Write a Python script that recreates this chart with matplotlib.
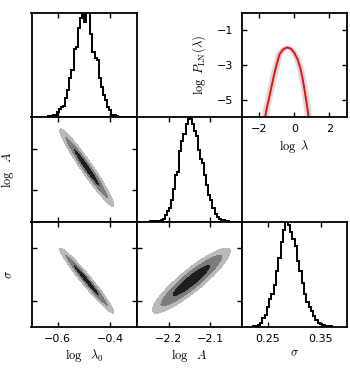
"""Corner plot of the log-normal fit posterior, with the model curve inset."""

import matplotlib

matplotlib.use("Agg")
import matplotlib.pyplot as plt
import numpy as np

plt.rcParams["mathtext.fontset"] = "cm"
plt.rcParams["font.family"] = "DejaVu Sans"

# ---- data ------------------------------------------------------------------
# 1D marginals: first bin edge, bin width and bin heights (fraction of panel)
LAM0_START, LAM0_WIDTH = -0.660, 0.008
LAM0_HEIGHTS = [0.003, 0.005, 0.006, 0.010, 0.015, 0.020, 0.025, 0.048, 0.080,
                0.100, 0.110, 0.180, 0.260, 0.370, 0.450, 0.650, 0.670, 0.850,
                0.950, 1.050, 0.910, 1.080, 1.040, 0.790, 0.620, 0.570, 0.550,
                0.370, 0.290, 0.210, 0.160, 0.100, 0.065, 0.025, 0.020, 0.008,
                0.003]

LOGA_START, LOGA_WIDTH = -2.255, 0.005
LOGA_HEIGHTS = [0.003, 0.004, 0.005, 0.006, 0.008, 0.010, 0.012, 0.020, 0.030,
                0.065, 0.100, 0.130, 0.210, 0.310, 0.450, 0.480, 0.680, 0.770,
                0.840, 0.940, 0.980, 1.000, 0.940, 0.870, 0.820, 0.690, 0.600,
                0.560, 0.450, 0.350, 0.260, 0.210, 0.130, 0.080, 0.050, 0.030,
                0.020, 0.015, 0.010, 0.006, 0.004, 0.002]

SIGMA_START, SIGMA_WIDTH = 0.2212, 0.0044
SIGMA_HEIGHTS = [0.004, 0.010, 0.020, 0.040, 0.080, 0.110, 0.190, 0.260, 0.310,
                 0.400, 0.530, 0.660, 0.810, 0.920, 1.000, 0.970, 0.900, 0.840,
                 0.770, 0.630, 0.530, 0.420, 0.310, 0.240, 0.190, 0.150, 0.100,
                 0.065, 0.035, 0.025, 0.015, 0.008, 0.004, 0.002]

# posterior summary used for the 2D credible regions
MEANS = {"lam0": -0.490, "logA": -2.146, "sigma": 0.288}
SDS = {"lam0": 0.034, "logA": 0.031, "sigma": 0.0205}
CORR = {("lam0", "logA"): -0.965, ("lam0", "sigma"): -0.97, ("logA", "sigma"): 0.90}

# best-fit log-normal curve
LOG_LAMBDA = [-1.67, -1.56, -1.43, -1.29, -1.14, -0.99, -0.86, -0.66, -0.43,
              -0.19, 0.00, 0.19, 0.34, 0.48, 0.61, 0.73, 0.80]
LOG_P = [-5.98, -5.40, -4.83, -4.16, -3.48, -2.90, -2.42, -2.13, -1.99,
         -2.08, -2.32, -2.71, -3.19, -3.87, -4.64, -5.40, -5.98]

PARAMS = ["lam0", "logA", "sigma"]
LIMITS = {"lam0": (-0.70, -0.30), "logA": (-2.278, -2.024), "sigma": (0.20, 0.40)}
TICKS = {"lam0": [-0.6, -0.4], "logA": [-2.2, -2.1], "sigma": [0.25, 0.35]}
LABELS = {"lam0": r"$\log\ \ \lambda_0$", "logA": r"$\log\ \ A$", "sigma": r"$\sigma$"}
HISTS = {
    "lam0": (LAM0_START, LAM0_WIDTH, LAM0_HEIGHTS),
    "logA": (LOGA_START, LOGA_WIDTH, LOGA_HEIGHTS),
    "sigma": (SIGMA_START, SIGMA_WIDTH, SIGMA_HEIGHTS),
}

# 68 / 95 / 99 per cent regions of a 2D gaussian (Mahalanobis distance squared)
LEVELS = [0.0, 2.28, 5.99, 9.21]
SHADES = ["#1e1e1e", "#7c7c7c", "#bababa"]

# ---- layout ----------------------------------------------------------------
FIG_W, FIG_H = 350, 368
LEFT, RIGHT, TOP, BOTTOM = 31.5, 347.0, 12.5, 326.7
CELL_W = (RIGHT - LEFT) / 3
CELL_H = (BOTTOM - TOP) / 3


def cell(col, row):
    x0 = (LEFT + col * CELL_W) / FIG_W
    y0 = 1 - (TOP + (row + 1) * CELL_H) / FIG_H
    return [x0, y0, CELL_W / FIG_W, CELL_H / FIG_H]


def style(ax):
    ax.tick_params(direction="in", top=True, right=True, length=3.5, width=1.0,
                   labelsize=8, pad=5)
    for spine in ax.spines.values():
        spine.set_linewidth(1.3)


fig = plt.figure(figsize=(FIG_W / 100, FIG_H / 100), dpi=100)

for row, py in enumerate(PARAMS):
    for col, px in enumerate(PARAMS[: row + 1]):
        ax = fig.add_axes(cell(col, row))
        style(ax)
        ax.set_xlim(LIMITS[px])
        ax.set_xticks(TICKS[px])
        if row == col:
            start, width, heights = HISTS[px]
            edges = start + width * np.arange(len(heights) + 1)
            ax.stairs(heights, edges, color="black", linewidth=1.4)
            ax.set_ylim(0, 1.0)
            ax.tick_params(left=False, right=False, labelleft=False)
        else:
            xs = np.linspace(*LIMITS[px], 300)
            ys = np.linspace(*LIMITS[py], 300)
            gx, gy = np.meshgrid(xs, ys)
            u = (gx - MEANS[px]) / SDS[px]
            v = (gy - MEANS[py]) / SDS[py]
            rho = CORR[(px, py)]
            d2 = (u * u - 2 * rho * u * v + v * v) / (1 - rho * rho)
            ax.contourf(gx, gy, d2, levels=LEVELS, colors=SHADES)
            ax.set_ylim(LIMITS[py])
            ax.set_yticks(TICKS[py])
            ax.tick_params(labelleft=False)
        if row == 2:
            ax.set_xlabel(LABELS[px], fontsize=9)
            ax.xaxis.set_label_coords(0.5, -0.19)
        else:
            ax.tick_params(labelbottom=False)
        if col == 0 and row > 0:
            ax.set_ylabel(LABELS[py], fontsize=9)
            ax.yaxis.set_label_coords(-0.15, 0.5)

# model curve panel in the top right corner
ax = fig.add_axes(cell(2, 0))
style(ax)
ax.tick_params(axis="y", pad=6)
lam = np.asarray(LOG_LAMBDA)
for shift in np.linspace(-0.18, 0.18, 13):
    ax.plot(lam + shift, LOG_P, color="0.5", linewidth=1.0, alpha=0.12)
ax.plot(lam, LOG_P, color="#ee1111", linewidth=1.4)
ax.set_xlim(-3, 3)
ax.set_ylim(-6, 0)
ax.set_xticks([-2, 0, 2])
ax.set_yticks([-1, -3, -5])
ax.set_xlabel(r"$\log\ \lambda$", fontsize=9)
ax.xaxis.set_label_coords(0.5, -0.2)
ax.set_ylabel(r"$\log\ P_{\rm LN}(\lambda)$", fontsize=9)
ax.yaxis.set_label_coords(-0.32, 0.5)

fig.savefig("out.png", dpi=100)
